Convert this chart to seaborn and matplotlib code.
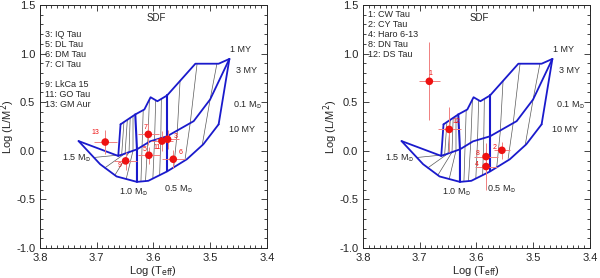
import numpy as np
import matplotlib
matplotlib.use('Agg')
import matplotlib.pyplot as plt
import seaborn as sns

sns.set_style('ticks')
plt.rcParams['font.family'] = ['Liberation Sans', 'DejaVu Sans']
plt.rcParams['mathtext.fontset'] = 'dejavusans'

# SDF 轨迹 (log Teff, log L/M^2)
ISO1_T = [3.658, 3.632, 3.616, 3.605, 3.593, 3.576, 3.526, 3.485, 3.466]
ISO1_L = [0.272, 0.374, 0.425, 0.551, 0.510, 0.569, 0.896, 0.896, 0.945]
ISO3_T = [3.466, 3.500, 3.529, 3.576, 3.606, 3.629, 3.662]
ISO3_L = [0.945, 0.528, 0.305, 0.149, 0.097, 0.015, -0.053]
ISO10_T = [3.732, 3.694, 3.665, 3.629, 3.609, 3.576, 3.541, 3.512, 3.485]
ISO10_L = [0.100, -0.138, -0.264, -0.320, -0.309, -0.213, -0.087, 0.067, 0.272]
M15_T = [3.658, 3.662, 3.732]
M15_L = [0.272, -0.053, 0.100]
M10_T = [3.632, 3.629, 3.629]
M10_L = [0.374, 0.015, -0.320]
M05_T = [3.576, 3.576, 3.576]
M05_L = [0.569, 0.149, -0.213]
M01_T = [3.466, 3.485]
M01_L = [0.945, 0.272]

# 中间质量轨迹 (1, 3, 10 MY)
THIN_T = [
    [3.652, 3.656, 3.705],
    [3.646, 3.650, 3.686],
    [3.641, 3.643, 3.668],
    [3.636, 3.636, 3.648],
    [3.618, 3.620, 3.622],
    [3.607, 3.610, 3.614],
    [3.596, 3.598, 3.601],
    [3.586, 3.587, 3.589],
    [3.553, 3.558, 3.564],
    [3.523, 3.535, 3.544],
    [3.488, 3.500, 3.514],
]
THIN_L = [
    [0.296, -0.041, -0.069],
    [0.319, -0.028, -0.177],
    [0.339, -0.014, -0.251],
    [0.358, 0.001, -0.290],
    [0.419, 0.047, -0.316],
    [0.528, 0.083, -0.312],
    [0.520, 0.111, -0.286],
    [0.534, 0.130, -0.251],
    [0.719, 0.190, -0.160],
    [0.896, 0.290, -0.080],
    [0.896, 0.528, 0.056],
]

# 左图星体
LEFT_ID = ['13', '7', '11', '3', '5', '6', '9']
LEFT_T = [3.685, 3.609, 3.585, 3.575, 3.608, 3.565, 3.649]
LEFT_L = [0.090, 0.169, 0.100, 0.118, -0.046, -0.087, -0.104]
LEFT_TERR = [0.020, 0.018, 0.020, 0.020, 0.020, 0.020, 0.020]
LEFT_LERR = [0.12, 0.11, 0.10, 0.10, 0.09, 0.09, 0.09]
LEFT_NAMES = ['3: IQ Tau', '5: DL Tau', '6: DM Tau', '7: CI Tau', '',
              '9: LkCa 15', '11: GO Tau', '13: GM Aur']

# 右图星体
RIGHT_ID = ['1', '12', '8', '4', '2']
RIGHT_T = [3.683, 3.648, 3.583, 3.583, 3.555]
RIGHT_L = [0.715, 0.220, -0.060, -0.162, 0.005]
RIGHT_TERR = [0.018, 0.020, 0.021, 0.020, 0.014]
RIGHT_LERR = [0.40, 0.23, 0.10, 0.24, 0.09]
RIGHT_NAMES = ['1: CW Tau', '2: CY Tau', '4: Haro 6-13', '8: DN Tau', '12: DS Tau']

# 标签偏移 (像素)
LEFT_OFF = [(-10, 10), (-3, 7), (-5, -6), (8, 3), (-4, 6), (7, 7), (-6, -5)]
RIGHT_OFF = [(1, 8), (7, 8), (-8, 3), (-9, 2), (-7, 3)]

BLUE = '#1a1acc'
RED = '#ee1111'
ERR = '#f08080'


def draw_tracks(ax):
    for t, l in zip(THIN_T, THIN_L):
        sns.lineplot(x=t, y=l, sort=False, estimator=None, ax=ax,
                     color='0.35', lw=0.5)
    for t, l, w in [(ISO1_T, ISO1_L, 1.3), (ISO3_T, ISO3_L, 1.3),
                    (ISO10_T, ISO10_L, 1.3), (M15_T, M15_L, 1.3),
                    (M10_T, M10_L, 1.5), (M05_T, M05_L, 1.5),
                    (M01_T, M01_L, 1.3)]:
        sns.lineplot(x=t, y=l, sort=False, estimator=None, ax=ax,
                     color=BLUE, lw=w)
    kw = dict(fontsize=6.5, ha='center', va='center')
    ax.text(3.447, 1.040, '1 MY', **kw)
    ax.text(3.435, 0.828, '3 MY', **kw)
    ax.text(3.433, 0.466, r'0.1 M$_{\odot}$', **kw)
    ax.text(3.444, 0.220, '10 MY', **kw)
    ax.text(3.736, -0.080, r'1.5 M$_{\odot}$', **kw)
    ax.text(3.634, -0.428, r'1.0 M$_{\odot}$', **kw)
    ax.text(3.556, -0.394, r'0.5 M$_{\odot}$', **kw)
    ax.text(0.514, 0.945, 'SDF', transform=ax.transAxes, fontsize=7,
            ha='center', va='center')


def draw_stars(ax, ids, t, l, terr, lerr, offs):
    ax.errorbar(t, l, xerr=terr, yerr=lerr, fmt='none', ecolor=ERR,
                elinewidth=0.7, capsize=0, zorder=3)
    sns.scatterplot(x=t, y=l, ax=ax, color=RED, s=30, edgecolor='none',
                    zorder=4)
    for name, x, y, off in zip(ids, t, l, offs):
        ax.annotate(name, (x, y), xytext=off, textcoords='offset pixels',
                    color=RED, fontsize=5, ha='center', va='center')


def style_axes(ax):
    ax.set_xlim(3.8, 3.4)
    ax.set_ylim(-1.0, 1.5)
    ax.set_xticks([3.8, 3.7, 3.6, 3.5, 3.4])
    ax.set_yticks([-1.0, -0.5, 0.0, 0.5, 1.0, 1.5])
    ax.set_xticklabels(['3.8', '3.7', '3.6', '3.5', '3.4'])
    ax.set_yticklabels(['-1.0', '-0.5', '0.0', '0.5', '1.0', '1.5'])
    ax.xaxis.set_minor_locator(matplotlib.ticker.MultipleLocator(0.01))
    ax.yaxis.set_minor_locator(matplotlib.ticker.MultipleLocator(0.1))
    ax.tick_params(which='both', direction='in', top=True, right=True,
                   labelsize=8, width=0.6)
    ax.tick_params(which='major', length=4)
    ax.tick_params(which='minor', length=2)
    for s in ax.spines.values():
        s.set_linewidth(0.7)
    ax.set_xlabel(r'Log (T$_{\rm eff}$)', fontsize=8, labelpad=1)
    ax.set_ylabel(r'Log (L/M$^2$)', fontsize=8)
    ax.yaxis.set_label_coords(-0.10, 0.5)


fig = plt.figure(figsize=(6.0, 2.78), dpi=100)
ax1 = fig.add_axes([0.0667, 0.108, 0.378, 0.874])
ax2 = fig.add_axes([0.605, 0.108, 0.378, 0.874])

for ax in (ax1, ax2):
    draw_tracks(ax)
    style_axes(ax)

draw_stars(ax1, LEFT_ID, LEFT_T, LEFT_L, LEFT_TERR, LEFT_LERR, LEFT_OFF)
draw_stars(ax2, RIGHT_ID, RIGHT_T, RIGHT_L, RIGHT_TERR, RIGHT_LERR, RIGHT_OFF)

step = 9.9 / 243
for i, s in enumerate(LEFT_NAMES):
    ax1.text(0.022, 0.877 - i * step, s, transform=ax1.transAxes,
             fontsize=6.5, va='center', ha='left')
for i, s in enumerate(RIGHT_NAMES):
    ax2.text(0.022, 0.959 - i * step, s, transform=ax2.transAxes,
             fontsize=6.5, va='center', ha='left')

plt.savefig('out.png', dpi=100)
plt.close()
